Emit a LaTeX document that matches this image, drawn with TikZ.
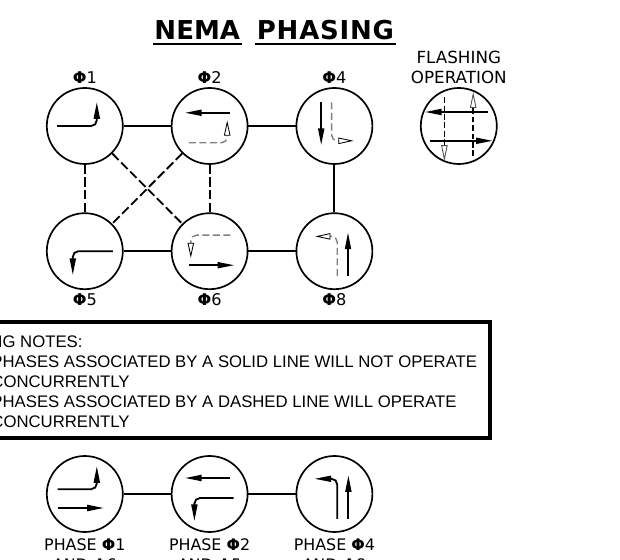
\documentclass[tikz,border=0pt]{standalone}
\usepackage{fontspec}
\setmainfont{DejaVu Sans}
\newfontfamily\notefont{Liberation Sans}
\usetikzlibrary{arrows.meta,positioning}
\newcommand{\Ph}{{\bfseries Φ}}

\begin{document}
\begin{tikzpicture}[
      ring/.style={draw,circle,minimum size=1.9cm,inner sep=0pt,line width=1.2pt},
      link/.style={line width=1.3pt},
      linkd/.style={line width=1.3pt,dash pattern=on 6.5pt off 2.5pt},
      move/.style={rounded corners=4pt,line width=1.3pt,
                   -{Triangle[length=0.42cm,width=0.15cm]}},
      ghost/.style={rounded corners=4pt,line width=1pt,black!50,dash pattern=on 5pt off 2.5pt,
                    -{Triangle[open,fill=white,color=black,length=0.38cm,width=0.16cm,line width=0.6pt]}},
      flashd/.style={line width=1.2pt,black,dash pattern=on 4pt off 2pt,
                    -{Triangle[open,fill=white,color=black!70,length=0.4cm,width=0.16cm,line width=0.6pt]}},
      phi/.style={font=\fontsize{11.5}{14}\selectfont,inner sep=0pt},
      lbl/.style={font=\fontsize{11.9}{14.2}\selectfont,align=center,inner sep=0pt},
      lblb/.style={font=\fontsize{11.3}{14.2}\selectfont,align=center,inner sep=0pt,anchor=north},
      note/.style={font=\notefont\fontsize{11.9}{14.4}\selectfont,inner sep=0pt,align=left},
      title/.style={font=\fontsize{18.5}{20}\selectfont\bfseries,inner xsep=1pt,inner ysep=0pt,text depth=0pt}]
    \useasboundingbox (0,0) rectangle (15.5,14);

    \node[title,anchor=base west] (nema) at (3.82,13.02) {NEMA};
    \node[title,anchor=base west] (phasing) at (6.38,13.02) {\addfontfeature{LetterSpace=3}PHASING};
    \draw[line width=1.2pt] ([yshift=-3.5pt]nema.base west) -- ([yshift=-3.5pt]nema.base east);
    \draw[line width=1.2pt] ([yshift=-3.5pt]phasing.base west) -- ([yshift=-3.5pt]phasing.base east);

    \node[ring] (p1) at (2.12,10.85) {};
    \node[ring] (p2) at (5.24,10.85) {};
    \node[ring] (p4) at (8.36,10.85) {};
    \node[ring] (p5) at (2.12,7.72) {};
    \node[ring] (p6) at (5.24,7.72) {};
    \node[ring] (p8) at (8.36,7.72) {};
    \node[ring] (fl) at (11.47,10.85) {};
    \node[ring] (a1) at (2.12,1.65) {};
    \node[ring] (a2) at (5.24,1.65) {};
    \node[ring] (a4) at (8.36,1.65) {};

    \node[phi,above=2.5pt of p1] (l1) {\Ph1};
    \node[phi,above=2.5pt of p2] (l2) {\Ph2};
    \node[phi,above=2.5pt of p4] (l4) {\Ph4};
    \node[phi,below=2.5pt of p5] (l5) {\Ph5};
    \node[phi,below=2.5pt of p6] (l6) {\Ph6};
    \node[phi,below=2.5pt of p8] (l8) {\Ph8};
    \node[lbl,above=2pt of fl] (flcap) {FLASHING\\OPERATION};
    \node[lblb] (c1) at (2.12,0.53) {PHASE \Ph1\\AND \Ph6};
    \node[lblb] (c2) at (5.24,0.53) {PHASE \Ph2\\AND \Ph5};
    \node[lblb] (c4) at (8.36,0.53) {PHASE \Ph4\\AND \Ph8};

    % rings that exclude each other
    \draw[link] (p1) -- (p2);
    \draw[link] (p2) -- (p4);
    \draw[link] (p5) -- (p6);
    \draw[link] (p6) -- (p8);
    \draw[link] (p4) -- (p8);
    \draw[link] (a1) -- (a2);
    \draw[link] (a2) -- (a4);
    % rings that run together
    \foreach \s/\t in {p1/p5,p2/p6,p1/p6,p2/p5}
      \draw[linkd] (\s) -- (\t);

    \draw[move,shift={(p1)}] (-.69,0) -- (.3,0) -- (.3,.6);
    \draw[move,shift={(p2)}] (.52,.33) -- (-.62,.33);
    \draw[ghost,shift={(p2)}] (-.52,-.42) -- (.44,-.42) -- (.44,.14);
    \draw[move,shift={(p4)}] (-.33,.59) -- (-.33,-.48);
    \draw[ghost,shift={(p4)}] (-.07,.59) -- (-.07,-.37) -- (.48,-.37);
    \draw[move,shift={(p5)}] (.7,0) -- (-.3,0) -- (-.3,-.6);
    \draw[move,shift={(p6)}] (-.52,-.35) -- (.62,-.35);
    \draw[ghost,shift={(p6)}] (.52,.4) -- (-.47,.4) -- (-.47,-.17);
    \draw[move,shift={(p8)}] (.34,-.62) -- (.34,.47);
    \draw[ghost,shift={(p8)}] (.07,-.62) -- (.07,.37) -- (-.48,.37);

    \draw[move,shift={(fl)}] (.72,.35) -- (-.85,.35);
    \draw[move,shift={(fl)}] (-.72,-.37) -- (.85,-.37);
    \draw[flashd,shift={(fl)}] (-.36,.72) -- (-.36,-.88);
    \draw[flashd,shift={(fl)}] (.36,-.75) -- (.36,.85);

    \draw[move,shift={(a1)}] (-.68,.12) -- (.3,.12) -- (.3,.7);
    \draw[move,shift={(a1)}] (-.68,-.35) -- (.48,-.35);
    \draw[move,shift={(a2)}] (.5,.4) -- (-.62,.4);
    \draw[move,shift={(a2)}] (.6,-.1) -- (-.38,-.1) -- (-.38,-.68);
    \draw[move,shift={(a4)}] (.35,-.62) -- (.35,.47);
    \draw[move,shift={(a4)}] (.07,-.62) -- (.07,.38) -- (-.5,.38);

    \node[draw,line width=2.8pt,minimum width=13.3cm,minimum height=2.9cm,anchor=east] (notes) at (12.3,4.49) {};
    \node[note,anchor=north west] (nhead) at (-1.5,5.62) {PHASING NOTES:};
    \node[note,anchor=north west] (nbody) at (-0.22,5.12)
      {PHASES ASSOCIATED BY A SOLID LINE WILL NOT OPERATE\\
       CONCURRENTLY\\
       PHASES ASSOCIATED BY A DASHED LINE WILL OPERATE\\
       CONCURRENTLY};
  \end{tikzpicture}
\end{document}
